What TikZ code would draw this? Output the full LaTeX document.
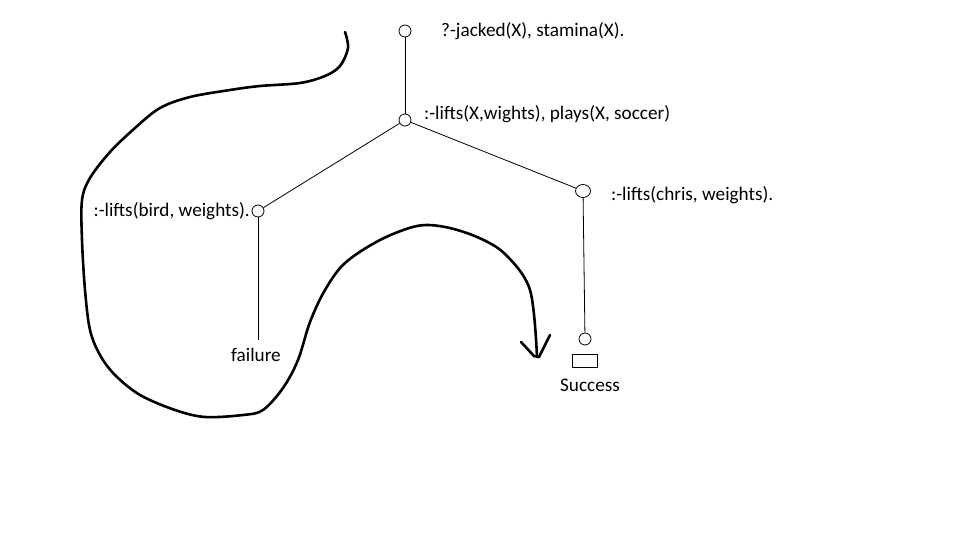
\documentclass[tikz,border=0pt]{standalone}
\usepackage{fontspec}
\setmainfont{Carlito}
\usetikzlibrary{shapes.geometric}
\begin{document}
\begin{tikzpicture}[x=1pt,y=-1pt,
	goal/.style={circle,draw,line width=0.8pt,inner sep=0pt,minimum size=12pt,fill=white},
	lbl/.style={inner sep=0pt,font=\fontsize{19.2}{22}\selectfont},
	edge/.style={line width=0.8pt},
	pen/.style={line width=2.6pt,line join=round,line cap=round}]
	\useasboundingbox[fill=white] (0,0) rectangle (960,540);
	% the resolution tree
	\node[goal] (q0) at (405,31) {};
	\node[goal] (q1) at (405,120) {};
	\node[goal] (bird) at (258,211) {};
	\node[draw,line width=0.8pt,ellipse,inner sep=0pt,minimum width=15pt,minimum height=13pt] (chris) at (583,191) {};
	\node[goal] (done) at (585,339) {};
	\node[draw,line width=0.8pt,minimum width=25pt,minimum height=13pt,inner sep=0pt] (box) at (584.5,361) {};
	\coordinate (fail) at (258,340);
		\draw[edge] (q0)--(q1);
		\draw[edge] (q1)--(bird);
		\draw[edge] (q1)--(chris);
		\draw[edge] (bird)--(fail);
		\draw[edge] (chris)--(done);
	\node[lbl,anchor=west] (t0) at (441,31) {?-jacked(X), stamina(X).};
	\node[lbl,anchor=west] (t1) at (424,114) {:-lifts(X,wights), plays(X, soccer)};
	\node[lbl,anchor=east] (t2) at (250,211) {:-lifts(bird, weights).};
	\node[lbl,anchor=west] (t3) at (611,195) {:-lifts(chris, weights).};
	\node[lbl] (t4) at (256,355) {failure};
	\node[lbl] (t5) at (590,385) {Success};
	% the hand drawn arrow
	\draw[pen] plot[smooth,tension=0.55] coordinates {(345,32) (348,48) (340,66) (325,76) (300,83) (260,86) (230,90) (190,97) (160,108) (135,128) (110,152) (90,178) (82,200) (82,240) (85,290) (90,330) (100,355) (115,375) (140,395) (175,410) (205,417) (243,415) (263,410) (283,388) (298,360) (310,322) (325,290) (345,263) (380,240) (417,226) (445,227) (477,237) (505,254) (530,290) (537,357)};
	\draw[pen] (521,342)--(534,356)--(539,357)--(545,345)--(550,335);
\end{tikzpicture}
\end{document}
